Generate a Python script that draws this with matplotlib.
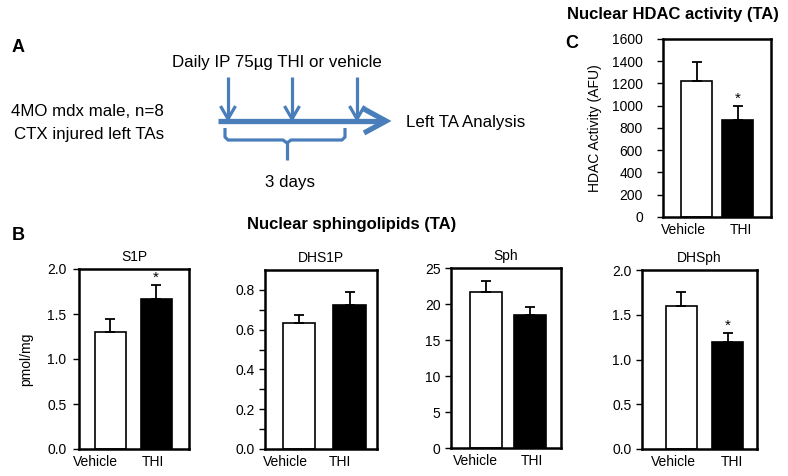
import matplotlib
matplotlib.use("Agg")
import matplotlib.pyplot as plt
from matplotlib.patches import FancyArrowPatch

plt.rcParams['font.family'] = ['Liberation Sans', 'DejaVu Sans']

W, H = 788, 476
groups = ["Vehicle", "THI"]

# Panel B data (pmol/mg)
s1p_mean = [1.30, 1.67]
s1p_err = [0.14, 0.15]
dhs1p_mean = [0.635, 0.725]
dhs1p_err = [0.04, 0.065]
sph_mean = [21.7, 18.5]
sph_err = [1.5, 1.1]
dhsph_mean = [1.60, 1.19]
dhsph_err = [0.15, 0.11]

# Panel C data (AFU)
hdac_mean = [1220, 870]
hdac_err = [175, 130]

fig = plt.figure(figsize=(W / 100, H / 100), dpi=100)
fig.patch.set_facecolor("white")

def px_axes(x0, y0, x1, y1):
    return fig.add_axes([x0 / W, 1 - y1 / H, (x1 - x0) / W, (y1 - y0) / H])

def bar_panel(ax, means, errs, ylim, ticks, labels, xlim, width, label_off,
              star=None, title=None, ylabel=None, minor=None, ypad=3.0, ylabelpad=10):
    colors = ["white", "black"]
    for i, (m, e) in enumerate(zip(means, errs)):
        ax.bar(i, m, width=width, color=colors[i], edgecolor="black", linewidth=1.2, zorder=2)
        ax.errorbar(i, m, yerr=[[0], [e]], color="black", capsize=3.8, capthick=1.3,
                    elinewidth=1.3, zorder=3)
    ax.set_xlim(*xlim)
    ax.set_ylim(*ylim)
    ax.set_yticks(ticks)
    ax.set_yticklabels(labels, fontsize=10)
    if minor is not None:
        ax.set_yticks(minor, minor=True)
        ax.tick_params(axis="y", which="minor", length=4.5, width=1.0)
    ax.set_xticks([0 + label_off[0], 1 + label_off[1]])
    ax.set_xticklabels(groups, fontsize=10)
    ax.tick_params(axis="x", length=0, pad=4)
    ax.tick_params(axis="y", length=4.5, width=1.0, pad=ypad)
    for s in ax.spines.values():
        s.set_linewidth(1.8)
    if star is not None:
        i = star
        ax.text(i, means[i] + errs[i], "*", ha="center", va="bottom", fontsize=11)
    if title:
        ax.set_title(title, fontsize=10, pad=6)
    if ylabel:
        ax.set_ylabel(ylabel, fontsize=10, labelpad=ylabelpad)

# Panel B axes
ax1 = px_axes(79, 269, 189, 449)
bar_panel(ax1, s1p_mean, s1p_err, (0, 2.0), [0, 0.5, 1.0, 1.5, 2.0],
          ["0.0", "0.5", "1.0", "1.5", "2.0"], (-0.69, 1.72), 0.68, (-0.32, -0.06),
          star=1, title="S1P", ylabel="pmol/mg", ypad=4.5, ylabelpad=10)

ax2 = px_axes(265, 270, 377, 449)
bar_panel(ax2, dhs1p_mean, dhs1p_err, (0, 0.9), [0, 0.2, 0.4, 0.6, 0.8],
          ["0.0", "0.2", "0.4", "0.6", "0.8"], (-0.66, 1.54), 0.63, (-0.26, -0.18),
          title="DHS1P", minor=[0.1, 0.3, 0.5, 0.7])

ax3 = px_axes(451, 268, 561, 448)
bar_panel(ax3, sph_mean, sph_err, (0, 25), [0, 5, 10, 15, 20, 25],
          ["0", "5", "10", "15", "20", "25"], (-0.8, 1.7), 0.73, (-0.25, 0.03),
          title="Sph")

ax4 = px_axes(642, 270, 757, 449)
bar_panel(ax4, dhsph_mean, dhsph_err, (0, 2.0), [0, 0.5, 1.0, 1.5, 2.0],
          ["0.0", "0.5", "1.0", "1.5", "2.0"], (-0.84, 1.63), 0.67, (-0.16, 0.1),
          star=1, title="DHSph")

# Panel C
axc = px_axes(663, 39, 771, 217)
bar_panel(axc, hdac_mean, hdac_err, (0, 1600), list(range(0, 1601, 200)),
          [str(v) for v in range(0, 1601, 200)], (-0.81, 1.8), 0.75, (-0.31, 0.07),
          star=1, ylabel="HDAC Activity (AFU)", ypad=10, ylabelpad=7)

# Text labels
def ftxt(x, y, s, **kw):
    fig.text(x / W, 1 - y / H, s, **kw)

ftxt(18, 48, "A", fontsize=13, fontweight="bold", va="center", ha="center")
ftxt(18, 236, "B", fontsize=13, fontweight="bold", va="center", ha="center")
ftxt(572, 44, "C", fontsize=13, fontweight="bold", va="center", ha="center")
ftxt(673, 15, "Nuclear HDAC activity (TA)", fontsize=12, fontweight="bold", ha="center", va="center")
ftxt(352, 225, "Nuclear sphingolipids (TA)", fontsize=12, fontweight="bold", ha="center", va="center")

fs = 12.2
ftxt(277, 63, "Daily IP 75µg THI or vehicle", fontsize=fs, ha="center", va="center")
ftxt(164, 112, "4MO mdx male, n=8", fontsize=fs, ha="right", va="center")
ftxt(164, 134, "CTX injured left TAs", fontsize=fs, ha="right", va="center")
ftxt(406, 122, "Left TA Analysis", fontsize=fs, ha="left", va="center")
ftxt(290, 183, "3 days", fontsize=fs, ha="center", va="center")

# Diagram overlay in figure pixel coordinates
axd = fig.add_axes([0, 0, 1, 1])
axd.set_xlim(0, W)
axd.set_ylim(H, 0)
axd.axis("off")
blue = "#4A7EBB"
kw = dict(color=blue, solid_capstyle="butt", solid_joinstyle="miter")
# main timeline arrow
axd.plot([218, 384], [121, 121], lw=3.8, **kw)
axd.plot([364, 386, 364], [109, 121, 133], lw=3.8, **kw)
# daily injection arrows
for xv in [228, 292, 357]:
    axd.plot([xv, xv], [77, 119], lw=2.3, **kw)
    axd.plot([xv - 7.5, xv, xv - 0 + 7.5], [106, 119, 106], lw=2.3, **kw)
# brace
kwb = dict(color=blue, lw=2.3, solid_capstyle="butt", solid_joinstyle="round")
axd.plot([225, 225, 228, 283, 287, 291, 342, 345, 345],
         [128, 137, 140, 140, 143, 140, 140, 137, 128], **kwb)
axd.plot([287, 287], [142, 160], **kwb)

fig.savefig("out.png", dpi=100, facecolor="white")
